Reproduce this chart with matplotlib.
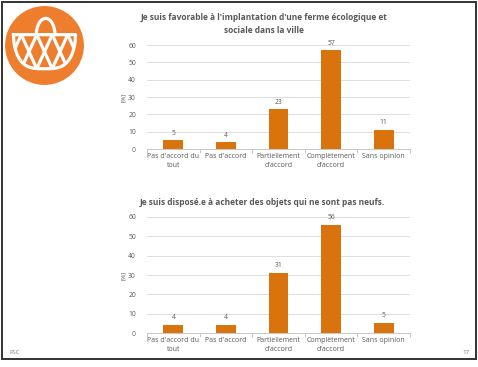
import numpy as np
import matplotlib.pyplot as plt
from matplotlib.patches import Circle, Rectangle, Arc, Polygon

categories = ["Pas d'accord du\ntout", "Pas d'accord", "Partiellement\nd'accord",
              "Complètement\nd'accord", "Sans opinion"]
favorable = [5, 4, 23, 57, 11]
occasion = [4, 4, 31, 56, 5]

title_top = "Je suis favorable à l'implantation d'une ferme écologique et\nsociale dans la ville"
title_bottom = "Je suis disposé.e à acheter des objets qui ne sont pas neufs."

BAR = '#D9730D'
LOGO = '#EE7D2E'
GREY = '#595959'
W, H = 478, 367

plt.rcParams['font.family'] = ['Open Sans', 'DejaVu Sans']

fig = plt.figure(figsize=(W / 100, H / 100), dpi=100)
fig.patch.set_facecolor('white')

# slide frame
fig.patches.append(Rectangle((2 / W, 1 - 359 / H), 474 / W, 357 / H,
                             transform=fig.transFigure, fill=False,
                             edgecolor='#333333', linewidth=1.4))


def bar_panel(rect, values):
    ax = fig.add_axes(rect)
    x = np.arange(len(categories))
    bars = ax.bar(x, values, width=0.38, color=BAR, zorder=3)
    for b, v in zip(bars, values):
        ax.text(b.get_x() + b.get_width() / 2, v + 2, str(v), ha='center',
                va='bottom', fontsize=4.9, color=GREY)
    ax.set_xlim(-0.5, len(categories) - 0.5)
    ax.set_ylim(0, 60)
    ax.set_yticks(range(0, 61, 10))
    ax.yaxis.grid(True, color='#D9D9D9', linewidth=0.6, zorder=0)
    ax.set_xticks(x)
    ax.set_xticklabels(categories, fontsize=5, color=GREY, linespacing=1.3)
    ax.set_xticks(np.arange(-0.5, len(categories)), minor=True)
    ax.tick_params(axis='x', which='major', length=0, pad=3)
    ax.tick_params(axis='x', which='minor', length=3, color='#BFBFBF', width=0.6)
    ax.tick_params(axis='y', length=0, labelsize=4.9, labelcolor=GREY, pad=8)
    for s in ('top', 'right', 'left'):
        ax.spines[s].set_visible(False)
    ax.spines['bottom'].set_color('#BFBFBF')
    ax.spines['bottom'].set_linewidth(0.6)
    ax.set_ylabel('[%]', fontsize=4.5, color=GREY, labelpad=2)
    ax.set_facecolor('none')
    return ax


bar_panel([147 / W, 1 - 149 / H, 263 / W, 104 / H], favorable)
bar_panel([147 / W, 1 - 333 / H, 263 / W, 116 / H], occasion)

fig.text(264 / W, 1 - 24 / H, title_top, ha='center', va='center',
         fontsize=6.0, fontweight='bold', color=GREY, linespacing=1.5)
fig.text(262 / W, 1 - 202 / H, title_bottom, ha='center', va='center',
         fontsize=6.0, fontweight='bold', color=GREY)

fig.text(9 / W, 1 - 352 / H, 'FSC', fontsize=4.5, color='#7F7F7F', va='center')
fig.text(470 / W, 1 - 352 / H, '17', fontsize=4.5, color='#7F7F7F',
         va='center', ha='right')

# basket logo
lg = fig.add_axes([5 / W, 1 - 85 / H, 79 / W, 79 / H])
lg.set_xlim(-1.02, 1.02)
lg.set_ylim(-1.02, 1.02)
lg.set_aspect('equal')
lg.axis('off')
lg.add_patch(Circle((0, 0), 1, color=LOGO))
lw = 2.3
rim_y, bottom_y, half = 0.28, -0.6, 0.8
lg.add_patch(Arc((0.03, rim_y), 0.48, 0.84, theta1=0, theta2=180,
                 color='white', lw=lw))
# bowl outline: flat rim with rounded sides
t = np.linspace(np.pi, 2 * np.pi, 80)
bx = half * np.sign(np.cos(t)) * np.abs(np.cos(t)) ** 0.6
by = rim_y + (rim_y - bottom_y) * np.sin(t)
bx = np.concatenate([bx, [-half]])
by = np.concatenate([by, [rim_y]])
lg.plot(bx, by, color='white', lw=lw, solid_joinstyle='round')
clip = Polygon(np.column_stack([bx, by]), closed=True, transform=lg.transData)
# diamond lattice: each strand drifts one step sideways over the full depth
step = 0.4
for x0 in np.arange(-1.0, 1.1, step):
    for sgn in (1, -1):
        ln, = lg.plot([x0, x0 + sgn * step], [rim_y, bottom_y],
                      color='white', lw=lw)
        ln.set_clip_path(clip)

fig.savefig('out.png', dpi=100)
